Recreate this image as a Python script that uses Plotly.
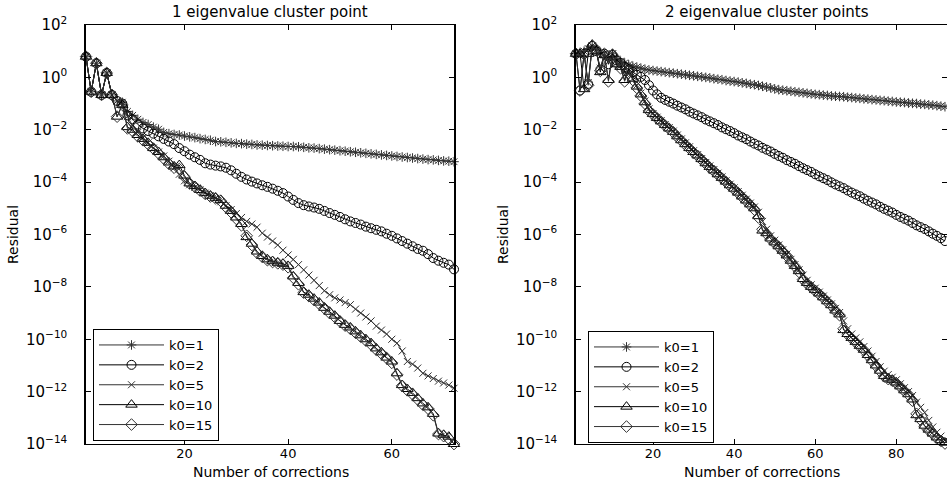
import plotly.graph_objects as go

# ---------------- data (log10 of residual) ----------------
x_left = list(range(1, 73))
x_right = list(range(1, 93))

left_k1 = [0.79, -0.55, 0.54, -0.67, 0.17, -0.67,
           -0.9, -0.95, -1.3, -1.45, -1.6, -1.72, -1.8, -1.9, -1.98, -2.1,
           -2.15, -2.18, -2.2, -2.24, -2.27, -2.3, -2.34, -2.37, -2.4, -2.45,
           -2.46, -2.48, -2.5, -2.52, -2.53, -2.55, -2.56, -2.58, -2.59, -2.6,
           -2.61, -2.62, -2.63, -2.64, -2.64, -2.65, -2.67, -2.69, -2.7, -2.72,
           -2.74, -2.76, -2.78, -2.8, -2.82, -2.84, -2.86, -2.88, -2.9, -2.92,
           -2.94, -2.96, -2.98, -3.0, -3.02, -3.04, -3.06, -3.08, -3.1, -3.12,
           -3.14, -3.15, -3.17, -3.19, -3.2, -3.22]
left_k2 = [0.79, -0.55, 0.54, -0.67, 0.17, -0.67,
           -0.9, -1.0, -1.45, -1.6, -1.8, -1.95, -2.05, -2.15, -2.25, -2.35,
           -2.45, -2.55, -2.7, -2.82, -2.95, -3.05, -3.15, -3.28, -3.33, -3.37,
           -3.4, -3.45, -3.55, -3.68, -3.8, -3.9, -3.98, -4.05, -4.12, -4.18,
           -4.25, -4.33, -4.42, -4.55, -4.68, -4.8, -4.88, -4.93, -4.97, -5.02,
           -5.1, -5.18, -5.25, -5.33, -5.42, -5.5, -5.56, -5.62, -5.7, -5.76,
           -5.82, -5.88, -5.97, -6.05, -6.15, -6.25, -6.35, -6.45, -6.55, -6.62,
           -6.75, -6.9, -7.0, -7.08, -7.15, -7.33]
left_k5 = [0.79, -0.55, 0.54, -0.67, 0.17, -0.67,
           -0.9, -1.05, -1.5, -1.85, -2.1, -2.3, -2.5, -2.7, -2.85, -3.0,
           -3.2, -3.45, -3.7, -3.95, -4.1, -4.2, -4.3, -4.42, -4.52, -4.62,
           -4.75, -4.9, -5.05, -5.2, -5.35, -5.5, -5.6, -5.72, -5.95, -6.1,
           -6.25, -6.4, -6.6, -6.78, -6.95, -7.15, -7.35, -7.55, -7.75, -7.95,
           -8.15, -8.3, -8.42, -8.5, -8.6, -8.68, -8.85, -9.0, -9.15, -9.3,
           -9.5, -9.65, -9.8, -10.0, -10.15, -10.45, -10.85, -10.95, -11.1, -11.3,
           -11.4, -11.5, -11.6, -11.67, -11.75, -11.87]
left_k10 = [0.79, -0.55, 0.54, -0.67, 0.17, -0.67,
            -1.5, -1.05, -1.9, -2.0, -2.2, -2.35, -2.5, -2.7, -2.85, -3.05,
            -3.25, -3.4, -3.35, -3.75, -4.05, -4.15, -4.3, -4.42, -4.52, -4.6,
            -4.68, -4.9, -5.1, -5.35, -5.6, -6.1, -6.35, -6.65, -6.82, -6.95,
            -7.02, -7.08, -7.12, -7.2, -7.6, -7.85, -8.2, -8.3, -8.45, -8.6,
            -8.8, -8.95, -9.1, -9.3, -9.45, -9.55, -9.7, -9.85, -10.0, -10.15,
            -10.35, -10.5, -10.7, -10.85, -11.3, -11.75, -11.9, -12.05, -12.25, -12.45,
            -12.6, -12.85, -13.6, -13.65, -13.72, -14.0]
left_k15 = [0.79, -0.55, 0.54, -0.67, 0.17, -0.67,
            -1.5, -1.05, -1.95, -2.05, -2.25, -2.4, -2.55, -2.72, -2.9, -3.1,
            -3.3, -3.45, -3.5, -3.8, -4.05, -4.18, -4.32, -4.45, -4.55, -4.62,
            -4.72, -4.95, -5.15, -5.4, -5.65, -6.05, -6.4, -6.7, -6.85, -6.98,
            -7.05, -7.1, -7.15, -7.25, -7.65, -7.9, -8.22, -8.35, -8.5, -8.65,
            -8.82, -9.0, -9.15, -9.32, -9.48, -9.6, -9.75, -9.9, -10.05, -10.2,
            -10.4, -10.55, -10.72, -10.9, -11.35, -11.78, -11.95, -12.1, -12.3, -12.5,
            -12.65, -12.9, -13.62, -13.7, -13.8, -14.0]

right_k1 = [0.9, 0.95, 1.0, 1.1, 1.2, 1.05, 0.95, 0.85, 0.75, 0.9,
            0.7, 0.62, 0.55, 0.48, 0.43, 0.39, 0.35, 0.31, 0.28, 0.26,
            0.24, 0.22, 0.2, 0.18, 0.16, 0.14, 0.12, 0.1, 0.08, 0.06,
            0.04, 0.02, 0.0, -0.02, -0.05, -0.07, -0.09, -0.12, -0.14, -0.16,
            -0.18, -0.21, -0.23, -0.26, -0.28, -0.31, -0.34, -0.37, -0.4, -0.44,
            -0.47, -0.49, -0.51, -0.53, -0.55, -0.57, -0.59, -0.61, -0.63, -0.65,
            -0.66, -0.68, -0.69, -0.71, -0.72, -0.73, -0.74, -0.76, -0.77, -0.79,
            -0.8, -0.82, -0.83, -0.85, -0.86, -0.88, -0.89, -0.91, -0.92, -0.94,
            -0.95, -0.96, -0.98, -0.99, -1.0, -1.02, -1.03, -1.05, -1.06, -1.08,
            -1.1, -1.12]
right_k2 = [0.9, -0.5, 0.9, -0.25, 1.2, 1.0, 0.3, 0.9, 0.5, 0.85,
            0.65, 0.55, 0.4, 0.3, 0.2, 0.1, 0.02, -0.1, -0.3, -0.5,
            -0.65, -0.78, -0.86, -0.93, -1.0, -1.08, -1.15, -1.22, -1.31, -1.38,
            -1.45, -1.52, -1.61, -1.68, -1.75, -1.82, -1.91, -1.98, -2.05, -2.13,
            -2.22, -2.29, -2.36, -2.45, -2.53, -2.6, -2.69, -2.76, -2.83, -2.92,
            -3.0, -3.07, -3.16, -3.23, -3.3, -3.39, -3.47, -3.54, -3.61, -3.7,
            -3.78, -3.85, -3.92, -4.01, -4.09, -4.16, -4.23, -4.32, -4.4, -4.47,
            -4.54, -4.63, -4.71, -4.78, -4.85, -4.94, -5.02, -5.09, -5.16, -5.25,
            -5.33, -5.4, -5.47, -5.56, -5.65, -5.72, -5.79, -5.88, -5.97, -6.05,
            -6.14, -6.25]
right_k5 = [0.9, 0.9, 0.9, -0.2, 1.2, 1.0, 0.35, 0.9, 0.6, 0.9,
            0.55, 0.45, 0.1, 0.2, -0.05, -0.3, -0.6, -0.9, -1.2, -1.38,
            -1.52, -1.65, -1.8, -1.92, -2.05, -2.2, -2.35, -2.5, -2.65, -2.8,
            -2.95, -3.1, -3.25, -3.38, -3.52, -3.66, -3.8, -3.95, -4.08, -4.22,
            -4.36, -4.5, -4.65, -4.8, -4.95, -5.15, -5.5, -5.8, -6.05, -6.22,
            -6.4, -6.58, -6.75, -6.95, -7.15, -7.35, -7.55, -7.75, -7.92, -8.05,
            -8.2, -8.35, -8.5, -8.65, -8.82, -8.98, -9.3, -9.6, -9.8, -9.95,
            -10.1, -10.28, -10.45, -10.65, -10.85, -11.05, -11.22, -11.35, -11.45, -11.55,
            -11.7, -11.85, -12.0, -12.15, -12.4, -12.6, -12.8, -13.1, -13.35, -13.55,
            -13.7, -13.85]
right_k10 = [0.9, 0.9, -0.45, 0.9, 1.25, 1.0, 0.2, 0.85, -0.1, 0.9,
             0.5, 0.4, -0.1, 0.3, -0.05, -0.35, -0.65, -0.95, -1.25, -1.4,
             -1.55, -1.68, -1.82, -1.95, -2.08, -2.25, -2.4, -2.55, -2.7, -2.85,
             -2.98, -3.12, -3.28, -3.42, -3.55, -3.7, -3.84, -3.98, -4.12, -4.25,
             -4.4, -4.55, -4.7, -4.85, -5.0, -5.3, -5.85, -5.95, -6.15, -6.3,
             -6.45, -6.62, -6.8, -7.0, -7.2, -7.4, -7.7, -7.85, -8.0, -8.12,
             -8.25, -8.4, -8.55, -8.7, -8.9, -9.05, -9.65, -9.8, -9.95, -10.1,
             -10.25, -10.4, -10.6, -10.8, -11.0, -11.2, -11.4, -11.5, -11.55, -11.65,
             -11.8, -11.95, -12.1, -12.3, -12.9, -13.05, -13.3, -13.45, -13.6, -13.75,
             -13.85, -13.95]
right_k15 = [0.9, -0.5, 0.9, -0.3, 1.2, 1.05, 0.25, 0.9, -0.15, 0.85,
             0.55, 0.35, -0.15, 0.25, -0.1, -0.4, -0.7, -1.0, -1.28, -1.42,
             -1.57, -1.7, -1.85, -1.97, -2.1, -2.28, -2.42, -2.58, -2.72, -2.87,
             -3.0, -3.15, -3.3, -3.45, -3.58, -3.72, -3.86, -4.0, -4.15, -4.28,
             -4.42, -4.58, -4.72, -4.88, -5.05, -5.35, -5.8, -5.98, -6.18, -6.33,
             -6.48, -6.65, -6.82, -7.03, -7.22, -7.43, -7.72, -7.88, -8.02, -8.15,
             -8.28, -8.42, -8.58, -8.72, -8.92, -9.08, -9.6, -9.82, -9.97, -10.12,
             -10.28, -10.42, -10.62, -10.82, -11.02, -11.22, -11.42, -11.52, -11.58, -11.68,
             -11.82, -11.98, -12.12, -12.35, -12.85, -13.08, -13.32, -13.48, -13.62, -13.78,
             -13.88, -13.98]

series_names = ["k0=1", "k0=2", "k0=5", "k0=10", "k0=15"]
left_data = [left_k1, left_k2, left_k5, left_k10, left_k15]
right_data = [right_k1, right_k2, right_k5, right_k10, right_k15]

titles = ["1 eigenvalue cluster point", "2 eigenvalue cluster points"]
xlabel = "Number of corrections"
ytick_exps = [2, 0, -2, -4, -6, -8, -10, -12, -14]
xticks_left = [20, 40, 60]
xticks_right = [20, 40, 60, 80]

# ---------------- styles ----------------
symbols = ["asterisk-open", "circle-open", "x-thin-open", "triangle-up-open", "diamond-open"]
sizes = [8, 9, 7, 10, 9]
colors = ["#333333", "#000000", "#333333", "#000000", "#333333"]
FONT = "DejaVu Sans, Verdana, sans-serif"

fig = go.Figure()
for i, name in enumerate(series_names):
    fig.add_trace(go.Scatter(
        x=x_left, y=[10 ** v for v in left_data[i]], name=name, mode="lines+markers",
        line=dict(color=colors[i], width=1),
        marker=dict(symbol=symbols[i], size=sizes[i], color=colors[i], line=dict(width=1, color=colors[i])),
        xaxis="x", yaxis="y", legend="legend", cliponaxis=False))
for i, name in enumerate(series_names):
    fig.add_trace(go.Scatter(
        x=x_right, y=[10 ** v for v in right_data[i]], name=name, mode="lines+markers",
        line=dict(color=colors[i], width=1),
        marker=dict(symbol=symbols[i], size=sizes[i], color=colors[i], line=dict(width=1, color=colors[i])),
        xaxis="x2", yaxis="y2", legend="legend2", cliponaxis=False))

yticktext = ["10<sup>%s</sup>" % (str(e).replace("-", "\u2212")) for e in ytick_exps]

common_x = dict(showline=True, linecolor="black", linewidth=1, mirror="ticks", ticks="inside",
                ticklen=5, tickcolor="black", showgrid=False, zeroline=False, automargin=False,
                tickfont=dict(family=FONT, size=13, color="black"), ticklabelstandoff=-3)
ycore = dict(type="log", range=[-14, 2], showgrid=False, zeroline=False, ticks="inside", automargin=False,
             ticklen=5, tickcolor="black", tickvals=[10 ** e for e in ytick_exps])
common_y = dict(showline=True, linecolor="black", linewidth=1.5,
                ticktext=yticktext, ticklabelstandoff=14,
                tickfont=dict(family=FONT, size=15, color="black"),
                title=dict(text="Residual", font=dict(family=FONT, size=14, color="black"), standoff=4),
                **ycore)

ydom = [38 / 482, 457 / 482]
fig.update_layout(
    width=947, height=482, margin=dict(l=0, r=0, t=0, b=0, autoexpand=False),
    paper_bgcolor="white", plot_bgcolor="white",
    font=dict(family=FONT, color="black"),
    xaxis=dict(domain=[86 / 947, 454 / 947], range=[1, 72], tickvals=xticks_left, anchor="y", **common_x),
    yaxis=dict(domain=ydom, anchor="x", mirror="ticks", **common_y),
    xaxis2=dict(domain=[576 / 947, 1.0], range=[1, 92.5], tickvals=xticks_right, anchor="y2", **common_x),
    yaxis2=dict(domain=ydom, anchor="x2", mirror=False, **common_y),
    yaxis3=dict(domain=ydom, anchor="x2", overlaying="y2", side="right", showline=False,
                showticklabels=False, **ycore),
    legend=dict(x=93 / 947, y=1 - 329 / 482, xanchor="left", yanchor="top", bgcolor="white",
                bordercolor="black", borderwidth=1, itemwidth=65,
                font=dict(family=FONT, size=13, color="black"), tracegroupgap=0),
    legend2=dict(x=588 / 947, y=1 - 331 / 482, xanchor="left", yanchor="top", bgcolor="white",
                 bordercolor="black", borderwidth=1, itemwidth=65,
                 font=dict(family=FONT, size=13, color="black"), tracegroupgap=0),
    showlegend=True,
    annotations=[
        dict(text=titles[0], x=270 / 947, y=1 - 12 / 482, xref="paper", yref="paper",
             showarrow=False, font=dict(family=FONT, size=15, color="black"), xanchor="center", yanchor="middle"),
        dict(text=titles[1], x=767 / 947, y=1 - 12 / 482, xref="paper", yref="paper",
             showarrow=False, font=dict(family=FONT, size=15, color="black"), xanchor="center", yanchor="middle"),
        dict(text=xlabel, x=271 / 947, y=1 - 472 / 482, xref="paper", yref="paper",
             showarrow=False, font=dict(family=FONT, size=14, color="black"), xanchor="center", yanchor="middle"),
        dict(text=xlabel, x=762 / 947, y=1 - 472 / 482, xref="paper", yref="paper",
             showarrow=False, font=dict(family=FONT, size=14, color="black"), xanchor="center", yanchor="middle"),
    ],
)

# invisible trace to activate the right-side tick axis of the second panel
fig.add_trace(go.Scatter(x=[None], y=[None], xaxis="x2", yaxis="y3", showlegend=False, hoverinfo="skip"))

fig.write_html("out.html")
